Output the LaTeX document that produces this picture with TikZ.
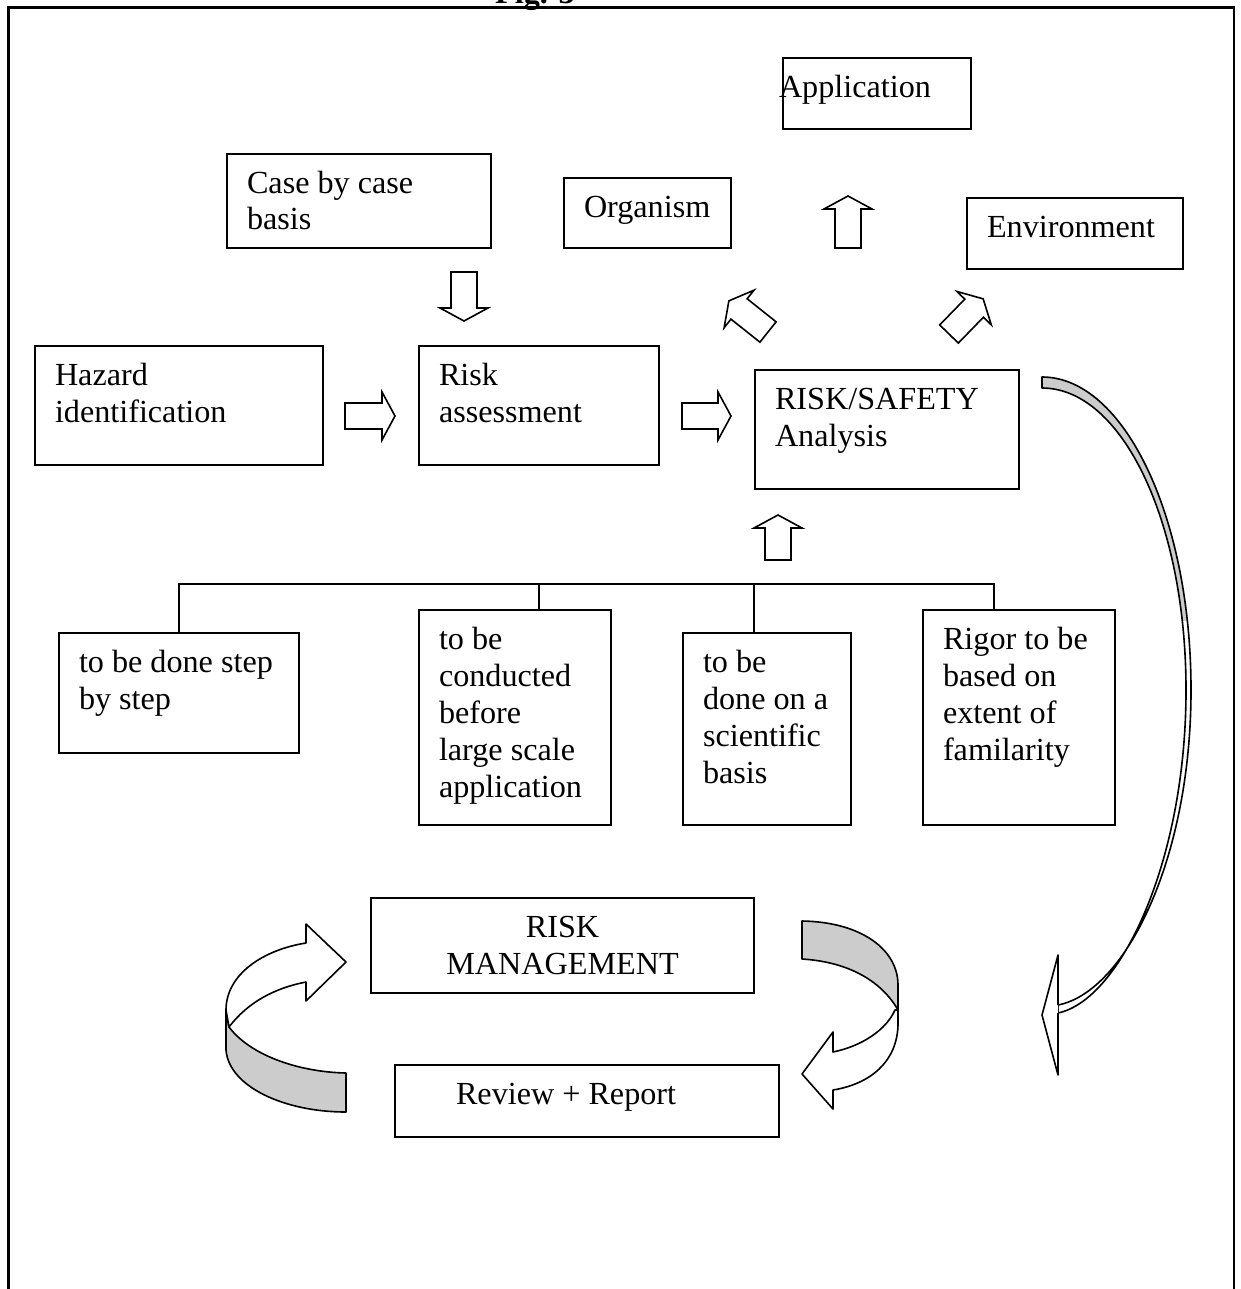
\documentclass[tikz,border=0pt]{standalone}
\usepackage{fontspec}
\setmainfont{Liberation Serif}
\usepackage{tikz}
\definecolor{ribbongray}{RGB}{204,204,204}
\newlength{\unitpx}
\setlength{\unitpx}{0.373pt}
\newcommand{\txtfont}{\fontsize{12pt}{13.8pt}\selectfont}
% hollow block arrow: tail point, angle, length
\newcommand{\fatarrow}[3]{%
  \draw[fatline,shift={(#1)},rotate=#2] (0,-13) -- (#3-13,-13) -- (#3-13,-24) -- (#3,0) -- (#3-13,24) -- (#3-13,13) -- (0,13) -- cycle;}
% band of the long curved arrow on the right
\newcommand{\bigband}{(1042,377) .. controls (1124,377) and (1191,517) .. (1191,690) .. controls (1191,860) and (1125,992) .. (1058,1005) -- (1058,1013) .. controls (1120,1000) and (1186,862) .. (1186,690) .. controls (1186,522) and (1122,388) .. (1042,388) -- cycle}

\begin{document}
\begin{tikzpicture}[x=\unitpx,y=-\unitpx,
  box/.style 2 args={draw,line width=0.75pt,anchor=north west,align=flush left,inner xsep=20\unitpx,inner ysep=0pt,text height=39\unitpx,text width=#1\unitpx,text depth=#2\unitpx,font=\txtfont,execute at begin node={\spaceskip=0pt\relax}},
  fatline/.style={draw,fill=white,line width=0.6pt},
  ribbon/.style={draw,line width=0.6pt,line join=round},
  bar/.style={line width=0.75pt}]
\useasboundingbox (0,0) rectangle (1241,1289);
\clip (0,0) rectangle (1241,1289);
% frame and caption
\node[font=\txtfont\bfseries,anchor=base] (figlabel) at (535,4) {Fig. 3};
\draw[line width=1.1pt] (8.5,1289) -- (8.5,7.5) -- (1234,7.5) -- (1234,1289);

% boxes
\node[box={196}{32},inner xsep=-4\unitpx] (app) at (782,57) {Application};
\node[box={224}{55}] (case) at (226,153) {Case by case\\basis};
\node[box={127}{31}] (org) at (563,177) {Organism};
\node[box={176}{32}] (env) at (966,197) {Environment};
\node[box={248}{80}] (haz) at (34,345) {Hazard\\identification};
\node[box={200}{80}] (risk) at (418,345) {Risk\\assessment};
\node[box={224}{80}] (safe) at (754,369) {RISK/SAFETY\\Analysis};
\node[box={200}{81}] (stp) at (58,632) {to be done step\\by step};
\node[box={152}{176}] (cond) at (418,609) {to be\\conducted\\before\\large scale\\application};
\node[box={128}{153}] (sci) at (682,632) {to be\\done on a\\scientific\\basis};
\node[box={152}{176}] (rig) at (922,609) {Rigor to be\\based on\\extent of\\familarity};
\node[box={343}{56},align=center] (mgmt) at (370,897) {RISK\\MANAGEMENT};
\node[box={262}{33},inner xsep=61\unitpx] (rev) at (394,1064) {Review + Report};

% bracket joining the four conditions
\coordinate (jc) at (539,584);
\coordinate (js) at (754,584);
\coordinate (jr) at (994,584);
\draw[bar] (stp.north) |- (jr) -- (jr |- rig.north);
\draw[bar] (jc) -- (jc |- cond.north);
\draw[bar] (js) -- (js |- sci.north);

% block arrows
\fatarrow{464,272}{-90}{49}
\fatarrow{345,416}{0}{50}
\fatarrow{682,416}{0}{49}
\fatarrow{848,248}{90}{52}
\fatarrow{768,332}{141.5}{50}
\fatarrow{949,334}{45.8}{49}
\fatarrow{778,560}{90}{45}

% long curved arrow from the analysis down to the management cycle
\begin{scope}
  \clip (1000,300) rectangle (1241,620);
  \fill[ribbongray] \bigband;
\end{scope}
\draw[ribbon] \bigband;
\draw[ribbon,fill=white] (1058,1005) -- (1058,955) -- (1042,1015) -- (1058,1075) -- (1058,1013);

% management cycle, left
\draw[ribbon,fill=ribbongray] (226,1010) -- (226,1050) .. controls (229,1087) and (285,1112) .. (346,1112) -- (346,1073) .. controls (298,1072) and (250,1055) .. (229,1027) -- cycle;
\draw[ribbon,fill=white] (306,943) .. controls (262,950) and (226,975) .. (226,1010) -- (229,1027) .. controls (248,1002) and (275,988) .. (306,982) -- (306,1001) -- (346,962) -- (306,924) -- cycle;

% management cycle, right
\draw[ribbon,fill=ribbongray] (802,921) .. controls (862,922) and (898,950) .. (898,985) -- (898,1010) .. controls (882,982) and (850,962) .. (802,959) -- cycle;
\draw[ribbon,fill=white] (898,1010) -- (898,1025) .. controls (897,1062) and (870,1084) .. (833,1090) -- (833,1109) -- (802,1074) -- (833,1032) -- (833,1052) .. controls (862,1046) and (886,1030) .. (895,1010) -- cycle;
\end{tikzpicture}
\end{document}
